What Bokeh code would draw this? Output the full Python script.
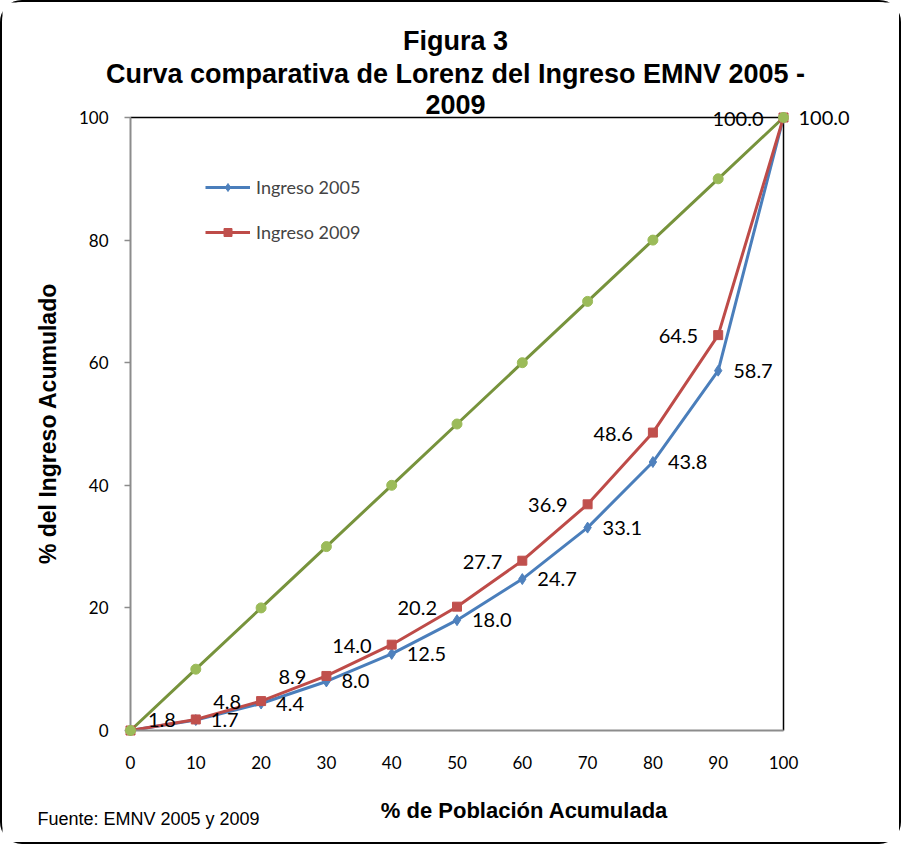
from bokeh.plotting import figure
from bokeh.models import (ColumnDataSource, LabelSet, Label, Legend, LegendItem,
                          FixedTicker, Range1d)
from bokeh.core.properties import value
from bokeh.embed import file_html
from bokeh.resources import INLINE
import math

# ---------------- data ----------------
poblacion = [0, 10, 20, 30, 40, 50, 60, 70, 80, 90, 100]
ingreso_2005 = [0, 1.7, 4.4, 8.0, 12.5, 18.0, 24.7, 33.1, 43.8, 58.7, 100.0]
ingreso_2009 = [0, 1.8, 4.8, 8.9, 14.0, 20.2, 27.7, 36.9, 48.6, 64.5, 100.0]
igualdad = [0, 10, 20, 30, 40, 50, 60, 70, 80, 90, 100]
x_ticks = [0, 10, 20, 30, 40, 50, 60, 70, 80, 90, 100]
y_ticks = [0, 20, 40, 60, 80, 100]

titulo = ["Figura 3", "Curva comparativa de Lorenz del Ingreso EMNV 2005 -", "2009"]
x_titulo = "% de Población Acumulada"
y_titulo = "% del Ingreso Acumulado"
fuente = "Fuente: EMNV 2005 y 2009"
serie_nombres = ["Ingreso 2005", "Ingreso 2009"]

# ---------------- layout (window pixels) ----------------
BORDER = 2
W, H = 901, 844                       # canvas; element = canvas + border
CL, CT = BORDER, BORDER               # canvas top-left in the window
CR, CB = CL + W, CT + H
PL, PT, PW, PH = 130, 117, 653, 613   # plot area (0..100 x 0..100) in the window
kx = PW / 100.0
ky = PH / 100.0

def sx(ax):
    return ax - CL

def sy(ay):
    return CB - ay

LABEL_FONT = "Lato"
BOLD_FONT = "Liberation Sans"

p = figure(width=W, height=H, output_backend="svg", toolbar_location=None,
           x_range=Range1d((CL - PL) / kx, (CR - PL) / kx),
           y_range=Range1d(-(CB - (PT + PH)) / ky, ((PT + PH) - CT) / ky),
           min_border=0)
p.styles = {"border": f"{BORDER}px solid black", "border-radius": "22px"}
p.background_fill_color = "white"
p.border_fill_color = "white"
p.outline_line_color = None
p.xgrid.visible = False
p.ygrid.visible = False

for ax in (p.xaxis, p.yaxis):
    ax.fixed_location = 0
    ax.bounds = (0, 100)
    ax.axis_line_color = "#8C8C8C"
    ax.axis_line_width = 2
    ax.major_tick_line_color = "#8C8C8C"
    ax.major_tick_line_width = 1.5
    ax.major_tick_out = 6
    ax.major_tick_in = 0
    ax.minor_tick_line_color = None
    ax.major_label_text_font = LABEL_FONT
    ax.major_label_text_font_size = "17px"
    ax.major_label_text_color = "black"
p.xaxis.ticker = FixedTicker(ticks=x_ticks)
p.yaxis.ticker = FixedTicker(ticks=y_ticks)
p.xaxis.major_tick_line_color = None
p.xaxis.major_tick_out = 0
p.xaxis.major_label_standoff = 25
p.yaxis.major_label_standoff = 16

# plot-area border (top and right), black
p.line(x=[x_ticks[0], x_ticks[-1]], y=[y_ticks[-1], y_ticks[-1]], line_color="black", line_width=1.5)
p.line(x=[x_ticks[-1], x_ticks[-1]], y=[y_ticks[0], y_ticks[-1]], line_color="black", line_width=1.5)

src = ColumnDataSource(dict(x=poblacion, y05=ingreso_2005, y09=ingreso_2009, yeq=igualdad))

BLUE, BLUE_M = "#4A7EBB", "#4F81BD"
RED, RED_M = "#BE4B48", "#C0504D"
GREEN, GREEN_M = "#77933C", "#9BBB59"

l05 = p.line("x", "y05", source=src, line_color=BLUE, line_width=3)
m05 = p.scatter("x", "y05", source=src, marker="diamond", size=11,
                fill_color=BLUE_M, line_color=BLUE_M)
l09 = p.line("x", "y09", source=src, line_color=RED, line_width=3)
m09 = p.scatter("x", "y09", source=src, marker="square", size=9,
                fill_color=RED_M, line_color=RED_M, level="overlay")
leq = p.line("x", "yeq", source=src, line_color=GREEN, line_width=3)
meq = p.scatter("x", "yeq", source=src, marker="circle", size=10,
                fill_color=GREEN_M, line_color=GREEN_M, level="overlay")

# data labels (skip the origin)
lab05 = ColumnDataSource(dict(x=poblacion[1:], y=ingreso_2005[1:],
                              t=[f"{v:.1f}" for v in ingreso_2005[1:]]))
lab09 = ColumnDataSource(dict(x=poblacion[1:], y=ingreso_2009[1:],
                              t=[f"{v:.1f}" for v in ingreso_2009[1:]]))
p.add_layout(LabelSet(x="x", y="y", text="t", source=lab05, text_align="left",
                      text_baseline="middle", x_offset=15, y_offset=0,
                      text_font=value(LABEL_FONT), text_font_size=value("20px"),
                      text_color="black"))
p.add_layout(LabelSet(x="x", y="y", text="t", source=lab09, text_align="right",
                      text_baseline="middle", x_offset=-20, y_offset=-1,
                      text_font=value(LABEL_FONT), text_font_size=value("20px"),
                      text_color="black"))

# legend: top-left of its box at (205, 180) in the window
legend = Legend(items=[LegendItem(label=serie_nombres[0], renderers=[l05, m05]),
                       LegendItem(label=serie_nombres[1], renderers=[l09, m09])],
                location=(205 - CL, CB - 180 - 63), border_line_color=None,
                background_fill_alpha=0,
                label_text_font=LABEL_FONT, label_text_font_size="18px",
                glyph_width=45, glyph_height=20, label_height=20, spacing=23,
                padding=0, margin=0, label_standoff=6)
p.add_layout(legend)

# titles
for txt, ay in zip(titulo, [40, 73, 104]):
    p.add_layout(Label(x=sx(455), y=sy(ay), x_units="screen", y_units="screen", text=txt,
                       text_align="center", text_baseline="middle",
                       text_font=BOLD_FONT, text_font_style="bold", text_font_size="27px",
                       text_color="black"))

p.add_layout(Label(x=sx(524), y=sy(810), x_units="screen", y_units="screen", text=x_titulo,
                   text_align="center", text_baseline="middle",
                   text_font=BOLD_FONT, text_font_style="bold", text_font_size="22px",
                   text_color="black"))
p.add_layout(Label(x=sx(47), y=sy(423), x_units="screen", y_units="screen", text=y_titulo,
                   text_align="center", text_baseline="middle", angle=math.pi / 2,
                   text_font=BOLD_FONT, text_font_style="bold", text_font_size="23px",
                   text_color="black"))
p.add_layout(Label(x=sx(37), y=sy(818), x_units="screen", y_units="screen", text=fuente,
                   text_align="left", text_baseline="middle",
                   text_font=BOLD_FONT, text_font_size="18px", text_color="black"))

open("out.html", "w").write(file_html(p, INLINE))
